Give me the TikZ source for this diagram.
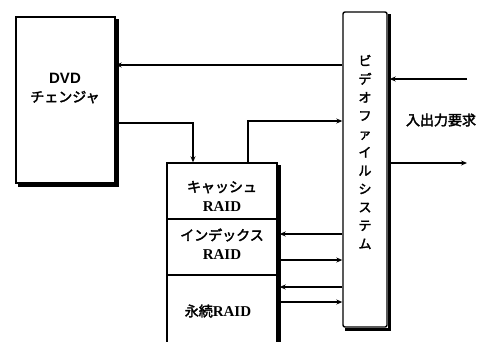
\documentclass[tikz,border=0pt]{standalone}
\usepackage{fontspec}
\setmainfont{Liberation Serif}
\newfontfamily\jp{Noto Sans CJK JP}[FakeBold=2.5]
\usetikzlibrary{arrows.meta}
\tikzset{
  box/.style={draw, line width=1.4pt, inner sep=0pt},
  shadow/.style={line width=2.8pt},
  arr/.style={line width=1.3pt, -{Stealth[length=6pt,width=5pt]}},
  lbl/.style={font=\jp\fontsize{14}{19}\selectfont, align=center, inner sep=0pt},
}
\begin{document}
\begin{tikzpicture}[x=1pt,y=-1pt]
\useasboundingbox (0,0) rectangle (479,341);
% DVD changer
\node[box, minimum width=99pt, minimum height=166pt] (dvd) at (65.5,100) {};
\draw[shadow] ([shift={(2pt,-3pt)}]dvd.north east) -- ([shift={(2pt,-2pt)}]dvd.south east) -- ([shift={(3pt,-2pt)}]dvd.south west);
\node[lbl] (dvdt) at (65,88) {{\fontspec{Liberation Sans}\bfseries\fontsize{15}{19}\selectfont DVD}\\チェンジャ};
% Video file system
\node[box, rounded corners=2pt, minimum width=44pt, minimum height=315pt] (fs) at (365,169.5) {};
\draw[shadow] ([shift={(2pt,-3pt)}]fs.north east) -- ([shift={(2pt,-2pt)}]fs.south east) -- ([shift={(3pt,-2pt)}]fs.south west);
\node[lbl, font=\jp\fontsize{13}{18.3}\selectfont] (fst) at (365,152) {ビ\\デ\\オ\\フ\\ァ\\イ\\ル\\シ\\ス\\テ\\ム};
% RAIDs
\node[box, minimum width=110pt, minimum height=56pt] (cache) at (222,191) {};
\node[box, minimum width=110pt, minimum height=56pt] (index) at (222,247) {};
\node[box, minimum width=110pt, minimum height=72pt] (perm) at (222,311) {};
\draw[shadow] ([shift={(2pt,-3pt)}]cache.north east) -- ([shift={(2pt,-20pt)}]perm.south east);
\node[lbl] (cachet) at (222,196) {キャッシュ\\{\rmfamily\bfseries\fontsize{15}{19}\selectfont RAID}};
\node[lbl] (indext) at (222,244) {インデックス\\{\rmfamily\bfseries\fontsize{15}{19}\selectfont RAID}};
\node[lbl] (permt) at (218,311) {永続{\rmfamily\bfseries\fontsize{15}{19}\selectfont RAID}};
% IO label
\node[lbl] (io) at (441,120) {入出力要求};
% connectors
\draw[arr] (fs.west |- 0,65) -- (dvd.east |- 0,65);
\draw[arr] (dvd.east |- 0,123) -| (cache.north -| 193,0);
\draw[arr] (cache.north -| 248,0) |- (fs.west |- 0,121);
\coordinate (o1) at (467,79);
\coordinate (o2) at (467,163);
\draw[arr] (o1) -- ([xshift=2pt]fs.east |- o1);
\draw[arr] ([xshift=2pt]fs.east |- o2) -- (o2);
\draw[arr] (fs.west |- 0,234) -- ([xshift=2pt]index.east |- 0,234);
\draw[arr] ([xshift=2pt]index.east |- 0,260) -- (fs.west |- 0,260);
\draw[arr] (fs.west |- 0,287) -- ([xshift=2pt]perm.east |- 0,287);
\draw[arr] ([xshift=2pt]perm.east |- 0,302) -- (fs.west |- 0,302);
\end{tikzpicture}
\end{document}
